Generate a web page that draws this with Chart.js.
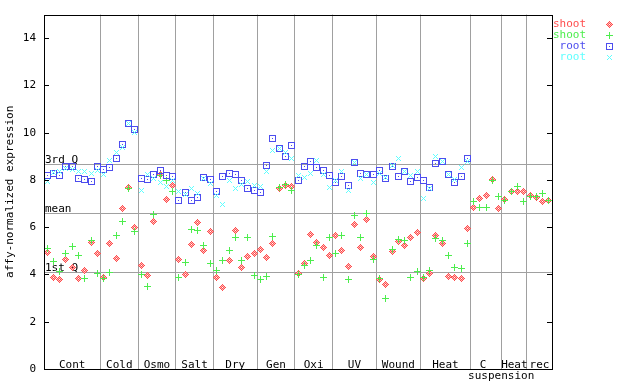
<!DOCTYPE html>
<html>
<head>
<meta charset="utf-8">
<script src="https://cdn.jsdelivr.net/npm/chart.js@4.4.1/dist/chart.umd.min.js"></script>
<style>
  html, body { margin: 0; padding: 0; background: #fff; }
</style>
</head>
<body>
<canvas id="chart" width="640" height="384"></canvas>
<script>
// groups along the x axis, and how many samples each one has
const groups = ["Cont", "Cold", "Osmo", "Salt", "Dry", "Gen", "Oxi", "UV", "Wound", "Heat", "C", "Heat", "rec"];
const groupSubLabels = ["", "", "", "", "", "", "", "", "", "", "suspension", "", ""];
const groupSizes = [9, 6, 6, 6, 7, 6, 6, 7, 7, 8, 5, 4, 4];

const shootRed = [
  4.93, 3.88, 3.77, 4.64, 4.30, 3.84, 4.15, 5.36, 4.89,
  3.88, 5.31, 4.68, 6.79, 7.70, 6.00,
  4.40, 3.94, 6.25, 8.25, 7.18, 7.77,
  4.64, 3.98, 5.27, 6.20, 5.02, 5.82,
  3.88, 3.46, 4.60, 5.86, 4.30, 4.77, 4.89,
  5.06, 4.73, 5.31, 7.65, 7.76, 7.73,
  4.05, 4.47, 5.69, 5.36, 5.15, 4.81,
  5.65, 5.02, 4.34, 6.11, 5.15, 6.33, 4.77,
  3.80, 3.59, 4.98, 5.40, 5.23, 5.57, 5.78,
  3.84, 4.05, 5.65, 5.31, 3.92, 3.88, 3.84, 5.95,
  6.83, 7.21, 7.34, 8.02, 6.79,
  7.17, 7.51, 7.51, 7.51,
  7.34, 7.26, 7.09, 7.13
];
const shootGreen = [
  5.10, 4.54, 4.12, 4.89, 5.17, 4.81, 3.84, 5.45, 4.05,
  3.85, 4.10, 5.66, 6.25, 7.64, 5.80,
  3.98, 3.50, 6.55, 8.20, 7.98, 7.52,
  3.88, 4.51, 5.92, 5.86, 5.23, 4.47,
  4.18, 4.60, 5.02, 5.57, 4.60, 5.57, 3.96,
  3.80, 3.92, 5.61, 7.68, 7.80, 7.55,
  4.01, 4.39, 4.60, 5.23, 3.88, 5.57,
  4.89, 5.65, 3.80, 6.50, 5.57, 6.58, 4.64,
  3.84, 2.99, 5.06, 5.48, 5.44, 3.88, 4.13,
  3.88, 4.18, 5.53, 5.44, 4.81, 4.30, 4.26, 5.32,
  7.09, 6.83, 6.83, 7.97, 7.30,
  7.13, 7.51, 7.72, 7.09,
  7.30, 7.30, 7.43, 7.13
];
const rootBlue = [
  8.18, 8.27, 8.18, 8.55, 8.59, 8.06, 8.02, 7.95, 8.58,
  8.44, 8.52, 8.90, 9.49, 10.38, 10.12,
  8.06, 8.03, 8.23, 8.40, 8.18, 8.14,
  7.15, 7.46, 7.15, 7.24, 8.09, 8.02,
  7.51, 8.14, 8.27, 8.24, 7.97, 7.64, 7.55,
  7.47, 8.61, 9.75, 9.32, 8.99, 9.45,
  7.97, 8.56, 8.77, 8.52, 8.40, 8.18,
  7.89, 8.14, 7.76, 8.73, 8.27, 8.23, 8.23,
  8.40, 8.07, 8.56, 8.14, 8.35, 7.93, 8.10,
  7.97, 7.68, 8.69, 8.77, 8.23, 7.89, 8.14, 8.90,
  null, null, null, null, null,
  null, null, null, null,
  null, null, null, null
];
const rootCyan = [
  7.93, 8.30, 8.35, 8.50, 8.46, 8.35, 8.35, 8.28, 8.40,
  8.23, 8.81, 9.15, 9.38, 10.38, 10.03,
  7.56, 8.25, 8.08, 7.91, 7.73, 7.97,
  7.51, 7.40, 7.64, 7.43, 8.06, 7.85,
  7.34, 6.96, 7.97, 7.64, 7.82, 7.95, 7.75,
  7.72, 8.35, 9.24, 9.32, 9.16, 8.90,
  8.18, 8.10, 8.27, 8.81, 8.22, 7.68,
  7.97, 8.35, 7.55, 8.73, 8.05, 8.23, 7.89,
  8.27, 8.10, 8.60, 8.90, 8.35, 8.18, 8.35,
  7.21, 7.64, 8.99, 8.77, 8.23, 8.02, 8.52, 8.77,
  null, null, null, null, null,
  null, null, null, null,
  null, null, null, null
];

const yTicks = [0, 2, 4, 6, 8, 10, 12, 14];
const quartileValues = [8.69, 6.62, 4.09];
const quartileLabels = ["3rd Q", "mean", "1st Q"];
const seriesNames = ["shoot", "shoot", "root", "root"];
const seriesColors = ["#ff4d4d", "#4ded4d", "#4d4dee", "#5fffff"];

const FONT = "DejaVu Sans Mono";
const nSamples = groupSizes.reduce((a, b) => a + b, 0);

// group boundaries in sample units
const bounds = [0];
groupSizes.forEach(n => bounds.push(bounds[bounds.length - 1] + n));

// small pixel markers, like the original plot
function marker(half, pick) {
  const size = half * 2 + 1;
  const c = document.createElement("canvas");
  c.width = size; c.height = size;
  const g = c.getContext("2d");
  for (let dy = -half; dy <= half; dy++) {
    for (let dx = -half; dx <= half; dx++) {
      const col = pick(dx, dy);
      if (col) { g.fillStyle = col; g.fillRect(dx + half, dy + half, 1, 1); }
    }
  }
  return c;
}
const markers = [
  marker(3, (dx, dy) => {
    const d = Math.abs(dx) + Math.abs(dy);
    if (d === 3 || d === 1) return seriesColors[0];
    if (d === 2) return "#ffb8b8";
    return null;
  }),
  marker(3, (dx, dy) => (dx === 0 || dy === 0) ? seriesColors[1] : null),
  marker(3, (dx, dy) => (Math.max(Math.abs(dx), Math.abs(dy)) === 3 || (dx === 0 && dy === 0)) ? seriesColors[2] : null),
  marker(2, (dx, dy) => Math.abs(dx) === Math.abs(dy) ? seriesColors[3] : null)
];

function toPoints(values) {
  const pts = [];
  values.forEach((v, i) => { if (v !== null) pts.push({ x: i + 0.5, y: v }); });
  return pts;
}

const allSeries = [shootRed, shootGreen, rootBlue, rootCyan];
const drawOrder = [3, 2, 1, 0];

const datasets = allSeries.map((vals, k) => ({
  label: seriesNames[k],
  data: toPoints(vals),
  pointStyle: markers[k],
  pointRadius: 3,
  showLine: false,
  order: drawOrder[k]
}));

const decorations = {
  id: "decorations",
  beforeDatasetsDraw(chart) {
    const { ctx, chartArea: a, scales: { y } } = chart;
    ctx.save();
    ctx.strokeStyle = "#a0a0a0";
    ctx.lineWidth = 1;
    ctx.font = "11px '" + FONT + "'";
    ctx.fillStyle = "#000";
    ctx.textAlign = "left";
    ctx.textBaseline = "alphabetic";
    quartileValues.forEach((v, i) => {
      const py = Math.round(y.getPixelForValue(v)) + 0.5;
      ctx.beginPath();
      ctx.moveTo(a.left, py);
      ctx.lineTo(a.right, py);
      ctx.stroke();
      ctx.fillText(quartileLabels[i], a.left + 1, py - 1.5);
    });
    ctx.restore();
  },
  beforeDatasetDraw(chart) {
    // keep the pixel markers crisp
    chart.ctx.imageSmoothingEnabled = false;
  },
  afterDatasetsDraw(chart) {
    const { ctx, chartArea: a, scales: { x, y } } = chart;
    ctx.save();
    // frame
    ctx.strokeStyle = "#000";
    ctx.lineWidth = 1;
    ctx.strokeRect(Math.round(a.left) + 0.5, Math.round(a.top) + 0.5,
      Math.round(a.right - a.left), Math.round(a.bottom - a.top));
    // inward tick marks on both sides
    ctx.beginPath();
    yTicks.forEach(v => {
      const py = Math.round(y.getPixelForValue(v)) + 0.5;
      ctx.moveTo(a.left, py); ctx.lineTo(a.left + 5, py);
      ctx.moveTo(a.right - 5, py); ctx.lineTo(a.right, py);
    });
    ctx.stroke();
    // group names
    ctx.font = "11px '" + FONT + "'";
    ctx.fillStyle = "#000";
    ctx.textAlign = "center";
    ctx.textBaseline = "alphabetic";
    groups.forEach((g, i) => {
      const cx = (x.getPixelForValue(bounds[i]) + x.getPixelForValue(bounds[i + 1])) / 2;
      if (groupSubLabels[i]) {
        ctx.fillText(g, cx - 3, a.bottom - 1.5);
        ctx.fillText(groupSubLabels[i], cx + 15, a.bottom + 9.5);
      } else {
        ctx.fillText(g, cx, a.bottom - 1.5);
      }
    });
    // legend
    ctx.textAlign = "right";
    ctx.textBaseline = "middle";
    ctx.imageSmoothingEnabled = false;
    seriesNames.forEach((name, k) => {
      const ly = 24 + k * 11;
      ctx.fillStyle = seriesColors[k];
      ctx.fillText(name, 586, ly);
      const m = markers[k];
      ctx.drawImage(m, 609 - Math.floor(m.width / 2), ly - Math.floor(m.height / 2));
    });
    ctx.restore();
  }
};

new Chart(document.getElementById("chart"), {
  type: "scatter",
  data: { datasets: datasets },
  options: {
    responsive: false,
    animation: false,
    events: [],
    layout: { padding: { top: 13, right: 88, left: 0, bottom: 0 } },
    plugins: {
      legend: { display: false },
      tooltip: { enabled: false }
    },
    scales: {
      x: {
        type: "linear",
        min: 0,
        max: nSamples,
        afterBuildTicks: s => { s.ticks = bounds.slice(1, -1).map(v => ({ value: v })); },
        afterFit: s => { s.height = 15; },
        ticks: { display: false },
        grid: { color: "#a0a0a0", lineWidth: 1, drawTicks: false },
        border: { display: false }
      },
      y: {
        min: 0,
        max: 15,
        afterBuildTicks: s => { s.ticks = yTicks.map(v => ({ value: v })); },
        afterFit: s => { s.width = 44; },
        ticks: { color: "#000", padding: 8, font: { family: FONT, size: 11 } },
        grid: { display: false, drawTicks: false },
        border: { display: false },
        title: {
          display: true,
          text: "affy-normalized expression",
          color: "#000",
          font: { family: FONT, size: 11 },
          padding: { top: 4, bottom: 0 }
        }
      }
    }
  },
  plugins: [decorations]
});
</script>
</body>
</html>
